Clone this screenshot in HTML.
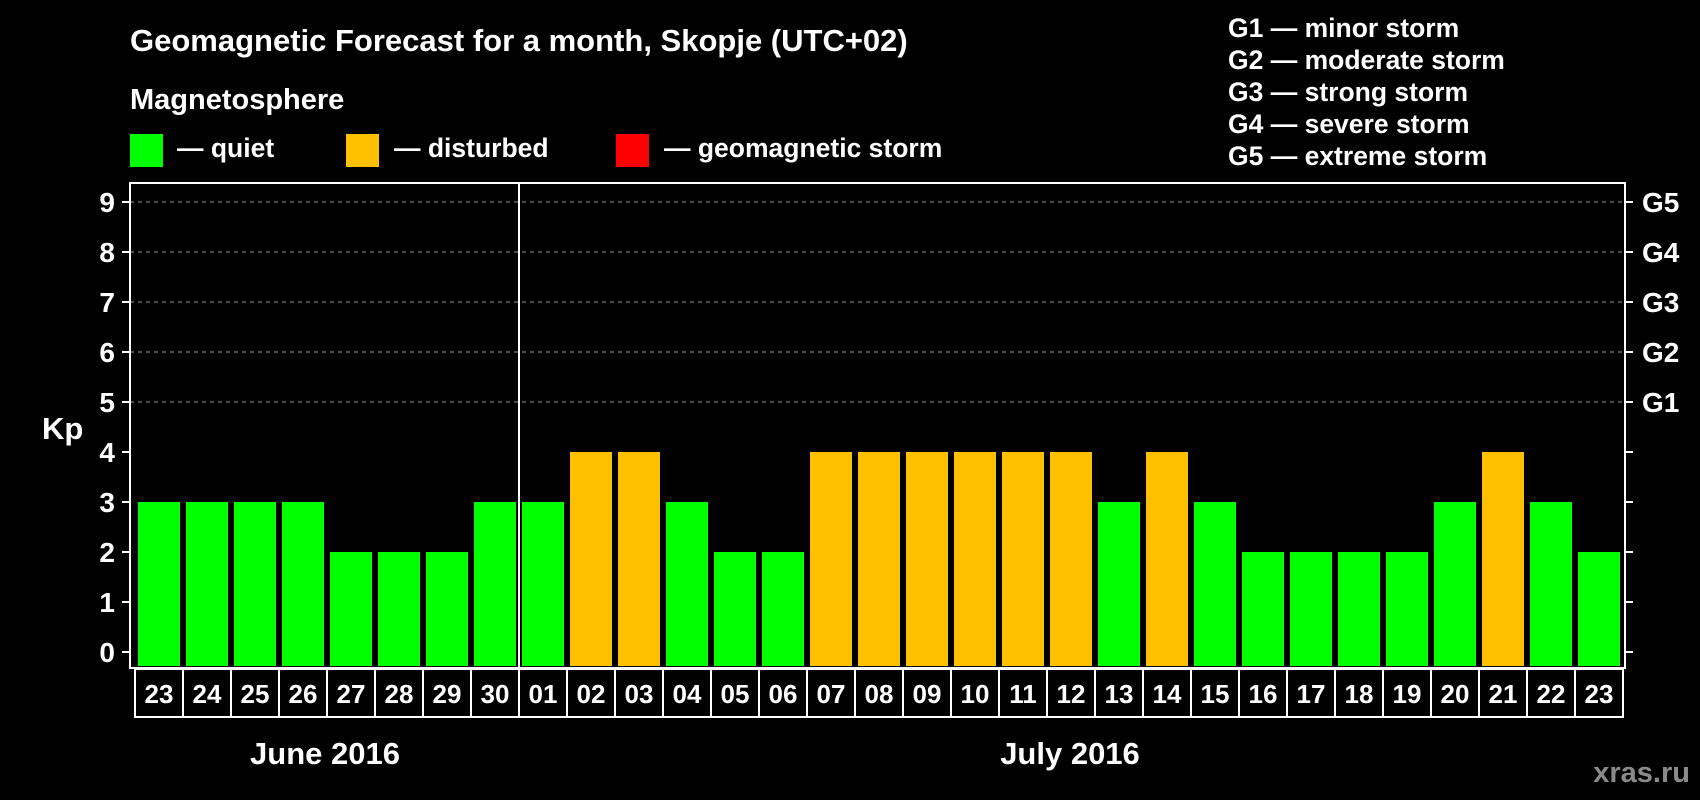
<!DOCTYPE html>
<html><head><meta charset="utf-8"><style>
html,body{margin:0;padding:0;background:#000;}
svg{display:block;font-family:"Liberation Sans",Arial,sans-serif;font-weight:bold;}
</style></head><body>
<svg id="chart" width="1700" height="800" viewBox="0 0 1700 800" xmlns="http://www.w3.org/2000/svg">
<rect x="0" y="0" width="1700" height="800" fill="#000"/>
<text x="130" y="51" fill="#fff" font-size="31">Geomagnetic Forecast for a month, Skopje (UTC+02)</text>
<text x="130" y="109" fill="#fff" font-size="29">Magnetosphere</text>
<g>
<rect x="130" y="134" width="33" height="33" fill="#00ff00"/>
<text x="177" y="157" fill="#fff" font-size="26.5">— quiet</text>
<rect x="346" y="134" width="33" height="33" fill="#ffc000"/>
<text x="394" y="157" fill="#fff" font-size="26.5">— disturbed</text>
<rect x="616" y="134" width="33" height="33" fill="#ff0000"/>
<text x="664" y="157" fill="#fff" font-size="26.5">— geomagnetic storm</text>
</g>
<g font-size="26.5" fill="#fff">
<text x="1228" y="37">G1 — minor storm</text>
<text x="1228" y="69">G2 — moderate storm</text>
<text x="1228" y="101">G3 — strong storm</text>
<text x="1228" y="133">G4 — severe storm</text>
<text x="1228" y="165">G5 — extreme storm</text>
</g>
<text x="42" y="439" fill="#fff" font-size="31">Kp</text>
<text x="325" y="764" fill="#fff" font-size="31" text-anchor="middle">June 2016</text>
<text x="1070" y="764" fill="#fff" font-size="31" text-anchor="middle">July 2016</text>
<text x="1690" y="782" fill="#8a8a8a" font-size="29" text-anchor="end">xras.ru</text>
<g id="plot"></g>
</svg>
<script>
const days = ["23","24","25","26","27","28","29","30","01","02","03","04","05","06","07","08","09","10","11","12","13","14","15","16","17","18","19","20","21","22","23"];
const kpValues = [3,3,3,3,2,2,2,3,3,4,4,3,2,2,4,4,4,4,4,4,3,4,3,2,2,2,2,3,4,3,2];
const yTicks = [0,1,2,3,4,5,6,7,8,9];
const gridLevels = [5,6,7,8,9];
const gLabels = ["G1","G2","G3","G4","G5"];
const monthBreakIndex = 8;

(function(){
const NS = "http://www.w3.org/2000/svg";
const plot = document.getElementById("plot");
const pLeft = 130, pRight = 1625, pTop = 183, pBottom = 668;
const y0 = 652, unit = 50;
const firstBar = 138, pitch = 48, barW = 42;
function yScale(v){ return y0 - v*unit; }
function xScale(i){ return firstBar + i*pitch; }
function mk(tag, attrs){ const e=document.createElementNS(NS,tag); for(const k in attrs) e.setAttribute(k,attrs[k]); plot.appendChild(e); return e; }
function color(v){ return v>=5 ? "#ff0000" : (v>=4 ? "#ffc000" : "#00ff00"); }

gridLevels.forEach((v,i)=>{
  const l = mk("line",{x1:pLeft,x2:pRight,y1:yScale(v),y2:yScale(v),stroke:"#999","stroke-width":1,"stroke-dasharray":"4,4"});
  
  
  const t = mk("text",{x:1642,y:yScale(v)+10,fill:"#fff","font-size":28});
  t.textContent = gLabels[i];
  
  
});
yTicks.forEach(v=>{
  const tl = mk("line",{x1:pLeft-8,x2:pLeft,y1:yScale(v),y2:yScale(v),stroke:"#fff","stroke-width":2});
  
  
  const tr = mk("line",{x1:pRight,x2:pRight+8,y1:yScale(v),y2:yScale(v),stroke:"#fff","stroke-width":2});
  
  
  const t = mk("text",{x:115,y:yScale(v)+10,fill:"#fff","font-size":28,"text-anchor":"end"});
  t.textContent = v;
  
  
});
kpValues.forEach((v,i)=>{
  const r = mk("rect",{x:xScale(i),y:yScale(v),width:barW,height:v*unit+(pBottom-y0-2),fill:color(v)});
  
  
});
const f = mk("rect",{x:pLeft,y:pTop,width:pRight-pLeft,height:pBottom-pTop,fill:"none",stroke:"#fff","stroke-width":2});


const sep = mk("line",{x1:xScale(monthBreakIndex)-3,x2:xScale(monthBreakIndex)-3,y1:pTop,y2:pBottom,stroke:"#fff","stroke-width":2});


days.forEach((d,i)=>{
  const c = mk("rect",{x:xScale(i)-3,y:pBottom+1,width:pitch,height:48,fill:"#000",stroke:"#fff","stroke-width":2});
  
  
  const t = mk("text",{x:xScale(i)+barW/2,y:pBottom+35,fill:"#fff","font-size":26,"text-anchor":"middle"});
  t.textContent = d;
  
  
});
})();
</script>
</body></html>
